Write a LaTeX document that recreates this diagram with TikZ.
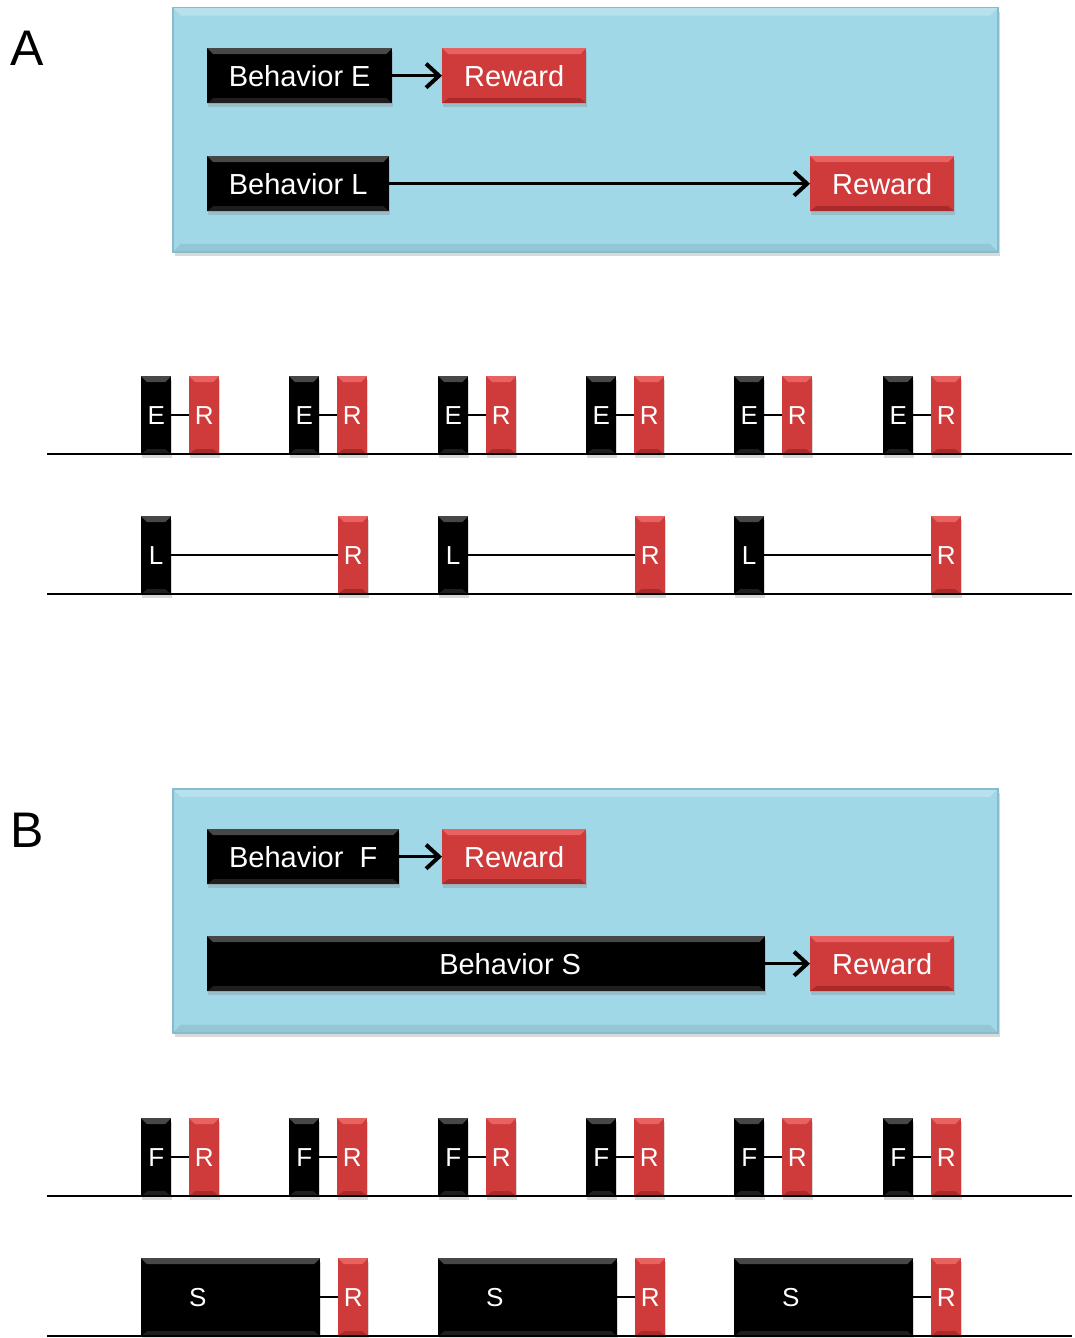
\documentclass[tikz,border=0pt]{standalone}
\usepackage{fontspec}
\setmainfont{Liberation Sans}
\usetikzlibrary{arrows.meta,shadows}
\definecolor{panelblue}{HTML}{A0D8E8}
\definecolor{paneledge}{HTML}{86BCCB}
\definecolor{rewardred}{HTML}{CF3A3A}
\definecolor{redtop}{HTML}{E86262}
\definecolor{redbot}{HTML}{A82A2A}
\definecolor{blacktop}{HTML}{474747}
\definecolor{blackbot}{HTML}{1E1E1E}
\tikzset{
  bevel/.style 2 args={path picture={
    \fill[#1] (path picture bounding box.north west) -- (path picture bounding box.north east)
      -- ([shift={(-6pt,-6pt)}]path picture bounding box.north east)
      -- ([shift={(6pt,-6pt)}]path picture bounding box.north west) -- cycle;
    \fill[#2] (path picture bounding box.south west) -- (path picture bounding box.south east)
      -- ([shift={(-6pt,5pt)}]path picture bounding box.south east)
      -- ([shift={(6pt,5pt)}]path picture bounding box.south west) -- cycle;
  }},
  box/.style={rectangle, inner sep=0pt, anchor=north west, text=white,
    drop shadow={shadow xshift=1pt, shadow yshift=-4pt, opacity=0.3}},
  bigfont/.style={font=\fontsize{29}{29}\selectfont},
  smallfont/.style={font=\fontsize{26}{26}\selectfont},
  blackbox/.style={box, fill=black, bevel={blacktop}{blackbot}},
  redbox/.style={box, fill=rewardred, bevel={redtop}{redbot}},
  behav/.style={blackbox, bigfont, minimum height=55},
  reward/.style={redbox, bigfont, minimum width=144, minimum height=55},
  tblack/.style={blackbox, smallfont, minimum width=30, minimum height=78},
  tred/.style={redbox, smallfont, minimum width=30, minimum height=78},
  panel/.style={rectangle, inner sep=0pt, anchor=north west, fill=panelblue,
    draw=paneledge, line width=1.5pt,
    drop shadow={shadow xshift=2pt, shadow yshift=-4pt, opacity=0.3},
    path picture={
      \fill[white,opacity=0.25] (path picture bounding box.north west) -- (path picture bounding box.north east)
        -- ([shift={(-8pt,-8pt)}]path picture bounding box.north east)
        -- ([shift={(8pt,-8pt)}]path picture bounding box.north west) -- cycle;
      \fill[black,opacity=0.08] (path picture bounding box.south west) -- (path picture bounding box.south east)
        -- ([shift={(-8pt,8pt)}]path picture bounding box.south east)
        -- ([shift={(8pt,8pt)}]path picture bounding box.south west) -- cycle;
    }},
  arr/.style={line width=3.5pt, -{Straight Barb[length=13pt,width=24pt,line width=4pt]}},
  tl/.style={line width=2pt},
  base/.style={line width=2.5pt},
  panellabel/.style={font=\fontsize{50}{50}\selectfont, anchor=center}
}
\begin{document}
\begin{tikzpicture}[x=1pt,y=-1pt]
\useasboundingbox (0,0) rectangle (1074,1338);

% ---------- Panel A ----------
\node[panellabel] (lblA) at (27,48) {A};
\node[panel, minimum width=825, minimum height=244] (pa) at (172,7) {};
\node[behav, minimum width=185] (be) at (207,48) {Behavior E};
\node[reward] (rwe) at (442,48) {Reward};
\draw[arr] (be.east) -- (rwe.west);
\node[behav, minimum width=182] (bl) at (207,156) {Behavior L};
\node[reward] (rwl) at (810,156) {Reward};
\draw[arr] (bl.east) -- (rwl.west);

% Early-reward timeline
\foreach \i/\x in {1/141,2/289,3/438,4/586,5/734,6/883}{
  \node[tblack] (ea\i) at (\x,376) {E};
  \node[tred] (ra\i) at (\x+48,376) {R};
  \draw[tl] (ea\i.east) -- (ra\i.west);
}
\coordinate (b1s) at (47,454);
\coordinate (b1e) at (1072,454);
\draw[base] (b1s) -- (b1e);

% Late-reward timeline
\foreach \i/\x in {1/141,2/438,3/734}{
  \node[tblack] (la\i) at (\x,516) {L};
  \node[tred] (rl\i) at (\x+197,516) {R};
  \draw[tl] (la\i.east) -- (rl\i.west);
}
\coordinate (b2s) at (47,594);
\coordinate (b2e) at (1072,594);
\draw[base] (b2s) -- (b2e);

% ---------- Panel B ----------
\node[panellabel] (lblB) at (27,830) {B};
\node[panel, minimum width=825, minimum height=244] (pb) at (172,788) {};
\node[behav, minimum width=192] (bf) at (207,829) {Behavior\ \ F};
\node[reward] (rwf) at (442,829) {Reward};
\draw[arr] (bf.east) -- (rwf.west);
\node[behav, minimum width=558] (bs) at (207,936) {\hspace*{48pt}Behavior S};
\node[reward] (rws) at (810,936) {Reward};
\draw[arr] (bs.east) -- (rws.west);

% Fast-behavior timeline
\foreach \i/\x in {1/141,2/289,3/438,4/586,5/734,6/883}{
  \node[tblack] (fb\i) at (\x,1118) {F};
  \node[tred] (rf\i) at (\x+48,1118) {R};
  \draw[tl] (fb\i.east) -- (rf\i.west);
}
\coordinate (b3s) at (47,1196);
\coordinate (b3e) at (1072,1196);
\draw[base] (b3s) -- (b3e);

% Slow-behavior timeline
\foreach \i/\x in {1/141,2/438,3/734}{
  \node[blackbox, smallfont, minimum width=179, minimum height=78] (sb\i) at (\x,1258) {S\hspace*{66pt}};
  \node[tred] (rs\i) at (\x+197,1258) {R};
  \draw[tl] (sb\i.east) -- (rs\i.west);
}
\coordinate (b4s) at (47,1336);
\coordinate (b4e) at (1072,1336);
\draw[base] (b4s) -- (b4e);
\end{tikzpicture}
\end{document}
